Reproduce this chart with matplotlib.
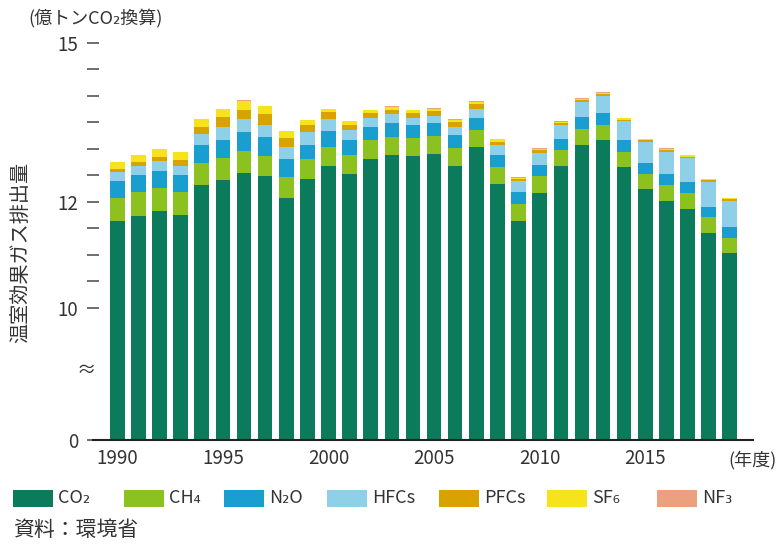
"""
Japan greenhouse gas emissions by gas, FY1990-2019 (stacked bars, broken y axis).
Units: 100 million t CO2-eq. Source: Ministry of the Environment.
"""

import numpy as np
import matplotlib.pyplot as plt
from matplotlib.patches import Rectangle

plt.rcParams["font.family"] = ["Noto Sans CJK JP", "DejaVu Sans"]
TEXT = "#333333"

years = np.arange(1990, 2020)

co2 = [11.64, 11.74, 11.83, 11.75, 12.31, 12.41, 12.55, 12.48, 12.08, 12.44,
       12.67, 12.53, 12.81, 12.89, 12.86, 12.91, 12.68, 13.03, 12.34, 11.64,
       12.17, 12.67, 13.08, 13.16, 12.65, 12.24, 12.02, 11.87, 11.42, 11.04]
ch4 = [0.44, 0.44, 0.44, 0.43, 0.43, 0.42, 0.41, 0.39, 0.38, 0.37,
       0.37, 0.36, 0.35, 0.34, 0.34, 0.33, 0.33, 0.32, 0.32, 0.31,
       0.31, 0.30, 0.30, 0.30, 0.30, 0.29, 0.29, 0.29, 0.29, 0.28]
n2o = [0.32, 0.32, 0.32, 0.32, 0.33, 0.34, 0.35, 0.35, 0.34, 0.27,
       0.30, 0.27, 0.26, 0.26, 0.26, 0.25, 0.25, 0.24, 0.23, 0.23,
       0.22, 0.22, 0.22, 0.22, 0.21, 0.21, 0.21, 0.21, 0.20, 0.20]
hfcs = [0.16, 0.17, 0.18, 0.18, 0.21, 0.25, 0.25, 0.24, 0.24, 0.24,
        0.23, 0.20, 0.16, 0.16, 0.12, 0.13, 0.15, 0.17, 0.19, 0.21,
        0.23, 0.26, 0.29, 0.32, 0.36, 0.39, 0.43, 0.45, 0.47, 0.50]
pfcs = [0.065, 0.075, 0.076, 0.109, 0.134, 0.176, 0.183, 0.201, 0.164, 0.137,
        0.119, 0.099, 0.090, 0.089, 0.092, 0.086, 0.090, 0.079, 0.057, 0.040,
        0.042, 0.038, 0.034, 0.033, 0.034, 0.033, 0.034, 0.035, 0.035, 0.034]
sf6 = [0.129, 0.142, 0.156, 0.157, 0.150, 0.164, 0.170, 0.145, 0.132, 0.092,
       0.070, 0.061, 0.057, 0.054, 0.053, 0.051, 0.052, 0.047, 0.042, 0.024,
       0.024, 0.022, 0.022, 0.021, 0.021, 0.022, 0.022, 0.021, 0.021, 0.020]
nf3 = [0.0003, 0.0003, 0.0003, 0.0003, 0.0004, 0.002, 0.002, 0.002, 0.002, 0.003,
       0.003, 0.003, 0.004, 0.008, 0.014, 0.015, 0.020, 0.025, 0.015, 0.015,
       0.015, 0.014, 0.015, 0.015, 0.012, 0.006, 0.006, 0.005, 0.004, 0.003]

gases = ["CO₂", "CH₄", "N₂O", "HFCs", "PFCs", "SF₆", "NF₃"]
series = [co2, ch4, n2o, hfcs, pfcs, sf6, nf3]
colors = ["#0b7b5b", "#8cc21f", "#189fcf", "#8ed0e8", "#d8a300", "#f7e31a", "#eba07e"]

yticks = [10, 10.5, 11, 11.5, 12, 12.5, 13, 13.5, 14, 14.5, 15]
ytick_labels = ["10", "", "", "", "12", "", "", "", "", "", "15"]
xtick_years = [1990, 1995, 2000, 2005, 2010, 2015]
BREAK = 7.5   # the axis foot stands for 0 (broken axis)

fig = plt.figure(figsize=(7.8, 5.51), dpi=100)
ax = fig.add_axes([93 / 780, 1 - 440 / 551, (753 - 93) / 780, (440 - 43) / 551])

bottom = np.zeros(len(years))
for vals, col in zip(series, colors):
    vals = np.asarray(vals)
    ax.bar(years, vals, bottom=bottom, width=0.69, color=col, linewidth=0)
    bottom += vals

ax.set_xlim(1988.85, 2020.1)
ax.set_ylim(BREAK, 15)
ax.set_yticks([BREAK] + yticks)
ax.set_yticklabels(["0"] + ytick_labels, fontsize=13.5, color=TEXT)
ax.set_xticks(xtick_years)
ax.set_xticklabels([str(y) for y in xtick_years], fontsize=13.5, color=TEXT)
ax.tick_params(axis="y", direction="inout", length=9, width=1.2, color="#555555", pad=6)
ax.tick_params(axis="x", length=0, pad=6)
for s in ["top", "right", "left"]:
    ax.spines[s].set_visible(False)
ax.spines["bottom"].set_color("#222222")
ax.spines["bottom"].set_linewidth(1.5)

# axis break mark
ax.text(-0.01, 0.175, "≈", transform=ax.transAxes, ha="center", va="center",
        fontsize=14, color=TEXT)

fig.text(752 / 780, 1 - 460 / 551, "(年度)", ha="center", va="center", fontsize=13, color=TEXT)
fig.text(28 / 780, 1 - 18 / 551, "(億トンCO₂換算)", ha="left", va="center", fontsize=13, color=TEXT)
fig.text(21 / 780, 1 - 252 / 551, "温室効果ガス排出量", rotation=90, ha="center", va="center",
         fontsize=14.5, color=TEXT)
fig.text(13 / 780, 1 - 530 / 551, "資料：環境省", ha="left", va="center", fontsize=15, color=TEXT)

# legend row
legend_x = [13, 124, 224, 327, 439, 547, 657]
for x0, name, col in zip(legend_x, gases, colors):
    fig.patches.append(Rectangle((x0 / 780, 1 - 507 / 551), 40 / 780, 17 / 551,
                                 transform=fig.transFigure, color=col, linewidth=0))
    fig.text((x0 + 45) / 780, 1 - 498 / 551, name, ha="left", va="center",
             fontsize=13, color=TEXT)

fig.savefig("out.png", dpi=100)
